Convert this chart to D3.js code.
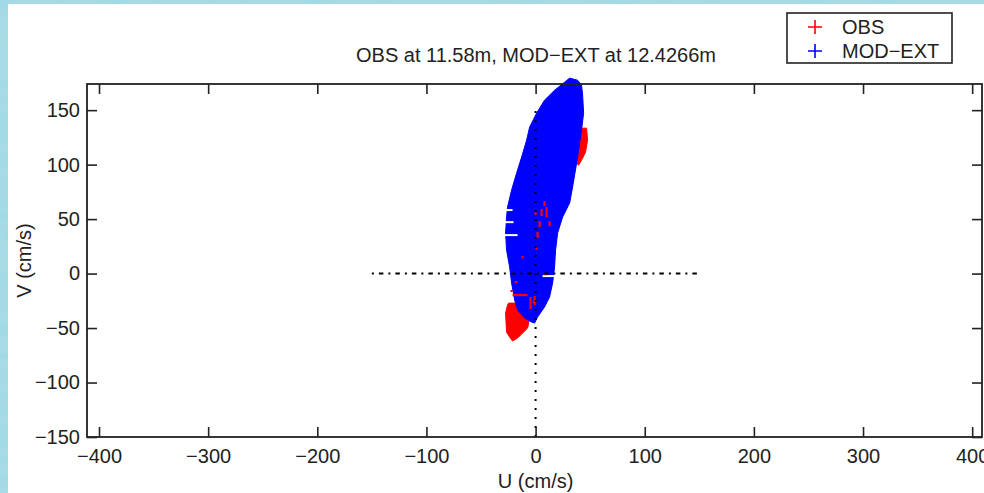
<html>
<head>
<meta charset="utf-8">
<title>OBS vs MOD-EXT</title>
<script src="https://d3js.org/d3.v7.min.js"></script>
<style>
    body{
        margin: 0;
        overflow: hidden;
    }
    text{
        font-family: "Liberation Sans", Arial, Helvetica, sans-serif;
        fill: #222;
    }
</style>
</head>
<body>
<svg id="chart"></svg>
<script>

//axis setup
var uDomain = [-411, 409];
var vDomain = [-150, 174];
var uTicks = [-400, -300, -200, -100, 0, 100, 200, 300, 400];
var vTicks = [-150, -100, -50, 0, 50, 100, 150];

var titleText = "OBS at 11.58m, MOD\u2212EXT at 12.4266m";
var seriesNames = ["OBS", "MOD\u2212EXT"];
var seriesColors = ["#ff0000", "#0000ff"];

//MOD-EXT: envelope of the dense cloud of + markers (u, v in cm/s)
var modOutline = [
    [31.2, 179.4], [38.5, 177.5], [42.1, 172.9], [43.1, 163.8], [44.0, 147.2],
    [42.1, 131.7], [37.6, 101.4], [33.9, 79.4], [31.2, 64.7], [30.2, 62.8],
    [24.7, 51.8], [20.2, 37.2], [18.3, 21.6], [17.4, 6.0], [15.6, -8.7],
    [12.8, -21.6], [8.2, -30.7], [1.8, -39.9], [-0.9, -45.4], [-3.7, -44.5],
    [-10.1, -40.8], [-16.5, -33.5], [-19.2, -24.3], [-22.0, -8.7], [-23.8, 6.0],
    [-26.6, 21.6], [-27.5, 37.2], [-26.6, 51.8], [-25.7, 61.0], [-22.0, 76.6],
    [-17.4, 92.2], [-12.8, 106.9], [-8.2, 122.5], [-5.5, 134.4], [0.9, 147.2],
    [8.2, 159.2], [17.4, 168.3], [26.6, 175.7]
];

//OBS: parts of the cloud that stick out of the MOD-EXT cloud
var obsUpper = [
    [39.4, 133.5], [46.7, 133.5], [47.6, 122.5], [45.8, 111.5], [42.1, 104.1],
    [39.4, 99.5], [34.8, 104.1], [35.7, 127.1]
];
var obsLower = [
    [-24.7, -27.1], [-17.4, -27.1], [-5.5, -40.8], [-7.3, -50.0], [-11.9, -54.6],
    [-16.5, -59.2], [-21.1, -61.9], [-23.8, -58.3], [-26.6, -53.7], [-27.5, -36.2],
    [-25.7, -28.9]
];

//OBS markers showing through gaps of the blue cloud [u1, v1, u2, v2]
var obsBits = [
    [8.2, 66.5, 8.2, 61.9], [5.5, 59.2, 5.5, 52.8], [10.1, 61.0, 10.1, 51.8],
    [0.0, 56.4, 0.0, 53.7], [3.7, 48.2, 3.7, 42.7], [12.8, 48.2, 12.8, 43.6],
    [1.8, 38.1, 1.8, 32.6], [0.9, 24.3, 0.9, 22.0], [-11.9, 16.1, -11.9, 14.0],
    [7.3, -0.5, 10.1, -0.5], [-19.2, -7.8, -16.5, -7.8], [-22.0, -15.0, -22.0, -17.0],
    [-21.1, -19.7, -7.3, -19.7], [-4.6, -21.6, -4.6, -32.6], [-0.9, -20.6, -0.9, -28.9],
    [-2.7, -26.1, 0.9, -26.1]
];

//white gaps between MOD-EXT markers [u1, u2, v]
var modGaps = [
    [-27.5, -21.1, 58.3], [-28.4, -20.2, 47.2], [-28.4, -16.5, 35.3], [6.4, 17.4, -2.3]
];

//reference lines
var zeroH = [[-150, 0], [150, 0]];
var zeroV = [[0, -150], [0, 150]];

//setup canvas
var width = 984;
var height = 493;
var svg = d3.select("#chart").attr("width", width).attr("height", height);

var plot = {left: 87, right: 982, top: 84, bottom: 437};

var x = d3.scaleLinear().domain(uDomain).range([plot.left, plot.right]);
var y = d3.scaleLinear().domain(vDomain).range([plot.bottom, plot.top]);

//water background
var defs = svg.append("defs");
var filter = defs.append("filter").attr("id", "water")
    .attr("x", 0).attr("y", 0).attr("width", "100%").attr("height", "100%");
filter.append("feTurbulence").attr("type", "fractalNoise")
    .attr("baseFrequency", "0.03 0.08").attr("numOctaves", 3).attr("seed", 4);
filter.append("feColorMatrix").attr("type", "matrix")
    .attr("values", "0 0 0 0 0.35  0 0 0 0 0.70  0 0 0 0 0.80  2.2 0 0 0 -0.8");

svg.append("rect").attr("width", width).attr("height", height).attr("fill", "#a6dbe5");
svg.append("rect").attr("width", width).attr("height", height).attr("filter", "url(#water)");

//white figure
svg.append("rect")
    .attr("x", 8).attr("y", 4)
    .attr("width", width - 8).attr("height", height - 4)
    .attr("fill", "#ffffff");

var line = d3.line().x(function(d){ return x(d[0]); }).y(function(d){ return y(d[1]); });

//OBS (drawn first)
[obsUpper, obsLower].forEach(function(p){
    svg.append("path")
        .attr("d", line(p) + "Z")
        .attr("fill", seriesColors[0])
        .attr("stroke", seriesColors[0])
        .attr("stroke-width", 1);
});

//MOD-EXT on top
svg.append("path")
    .attr("d", line(modOutline) + "Z")
    .attr("fill", seriesColors[1])
    .attr("stroke", seriesColors[1])
    .attr("stroke-width", 1);

//gaps
svg.selectAll(".gap").data(modGaps).enter().append("line")
    .attr("class", "gap")
    .attr("x1", function(d){ return x(d[0]); })
    .attr("x2", function(d){ return x(d[1]); })
    .attr("y1", function(d){ return y(d[2]); })
    .attr("y2", function(d){ return y(d[2]); })
    .attr("stroke", "#ffffff")
    .attr("stroke-width", 2);

//red bits
svg.selectAll(".bit").data(obsBits).enter().append("line")
    .attr("class", "bit")
    .attr("x1", function(d){ return x(d[0]); })
    .attr("y1", function(d){ return y(d[1]); })
    .attr("x2", function(d){ return x(d[2]); })
    .attr("y2", function(d){ return y(d[3]); })
    .attr("stroke", seriesColors[0])
    .attr("stroke-width", 2.2);

//reference lines
svg.append("path").attr("d", line(zeroH))
    .attr("stroke", "#000").attr("stroke-width", 2)
    .attr("stroke-dasharray", "2,5,4.5,5").attr("fill", "none");
svg.append("path").attr("d", line(zeroV))
    .attr("stroke", "#000").attr("stroke-width", 2)
    .attr("stroke-dasharray", "2,7").attr("fill", "none");

//axes box with inner ticks
var tickLen = 10;
var axisColor = "#222";
svg.append("rect")
    .attr("x", plot.left).attr("y", plot.top)
    .attr("width", plot.right - plot.left).attr("height", plot.bottom - plot.top)
    .attr("fill", "none").attr("stroke", axisColor).attr("stroke-width", 1.8);

var fmt = d3.format("d");

var bottomAxis = d3.axisBottom(x).tickValues(uTicks).tickSize(-tickLen).tickPadding(12).tickFormat(fmt);
var topAxis = d3.axisTop(x).tickValues(uTicks).tickSize(-tickLen).tickFormat("");
var leftAxis = d3.axisLeft(y).tickValues(vTicks).tickSize(-tickLen).tickPadding(7).tickFormat(fmt);
var rightAxis = d3.axisRight(y).tickValues(vTicks).tickSize(-tickLen).tickFormat("");

function drawAxis(axis, tx, ty){
    var g = svg.append("g").attr("transform", "translate(" + tx + "," + ty + ")").call(axis);
    g.select(".domain").remove();
    g.selectAll(".tick line").attr("stroke", axisColor).attr("stroke-width", 1.6);
    g.selectAll(".tick text").style("font-size", "20px").attr("fill", "#222");
    return g;
}
drawAxis(bottomAxis, 0, plot.bottom);
drawAxis(topAxis, 0, plot.top);
drawAxis(leftAxis, plot.left, 0);
drawAxis(rightAxis, plot.right, 0);

//labels
svg.append("text")
    .attr("x", 536).attr("y", 62)
    .attr("text-anchor", "middle").style("font-size", "20px")
    .text(titleText);

svg.append("text")
    .attr("x", x(0)).attr("y", 488)
    .attr("text-anchor", "middle").style("font-size", "20px")
    .text("U (cm/s)");

svg.append("text")
    .attr("transform", "translate(31," + (plot.top + plot.bottom) / 2 + ") rotate(-90)")
    .attr("text-anchor", "middle").style("font-size", "20px")
    .text("V (cm/s)");

//legend
var legend = svg.append("g").attr("transform", "translate(787,13)");
legend.append("rect")
    .attr("width", 165).attr("height", 50)
    .attr("fill", "#ffffff").attr("stroke", axisColor).attr("stroke-width", 1.6);

seriesNames.forEach(function(name, i){
    var cy = 14 + i * 24;
    legend.append("path")
        .attr("d", "M21," + cy + "H35M28," + (cy - 7) + "V" + (cy + 7))
        .attr("stroke", seriesColors[i]).attr("stroke-width", 1.6);
    legend.append("text")
        .attr("x", 55).attr("y", cy + 7)
        .style("font-size", "20px")
        .text(name);
});

</script>
</body>
</html>
